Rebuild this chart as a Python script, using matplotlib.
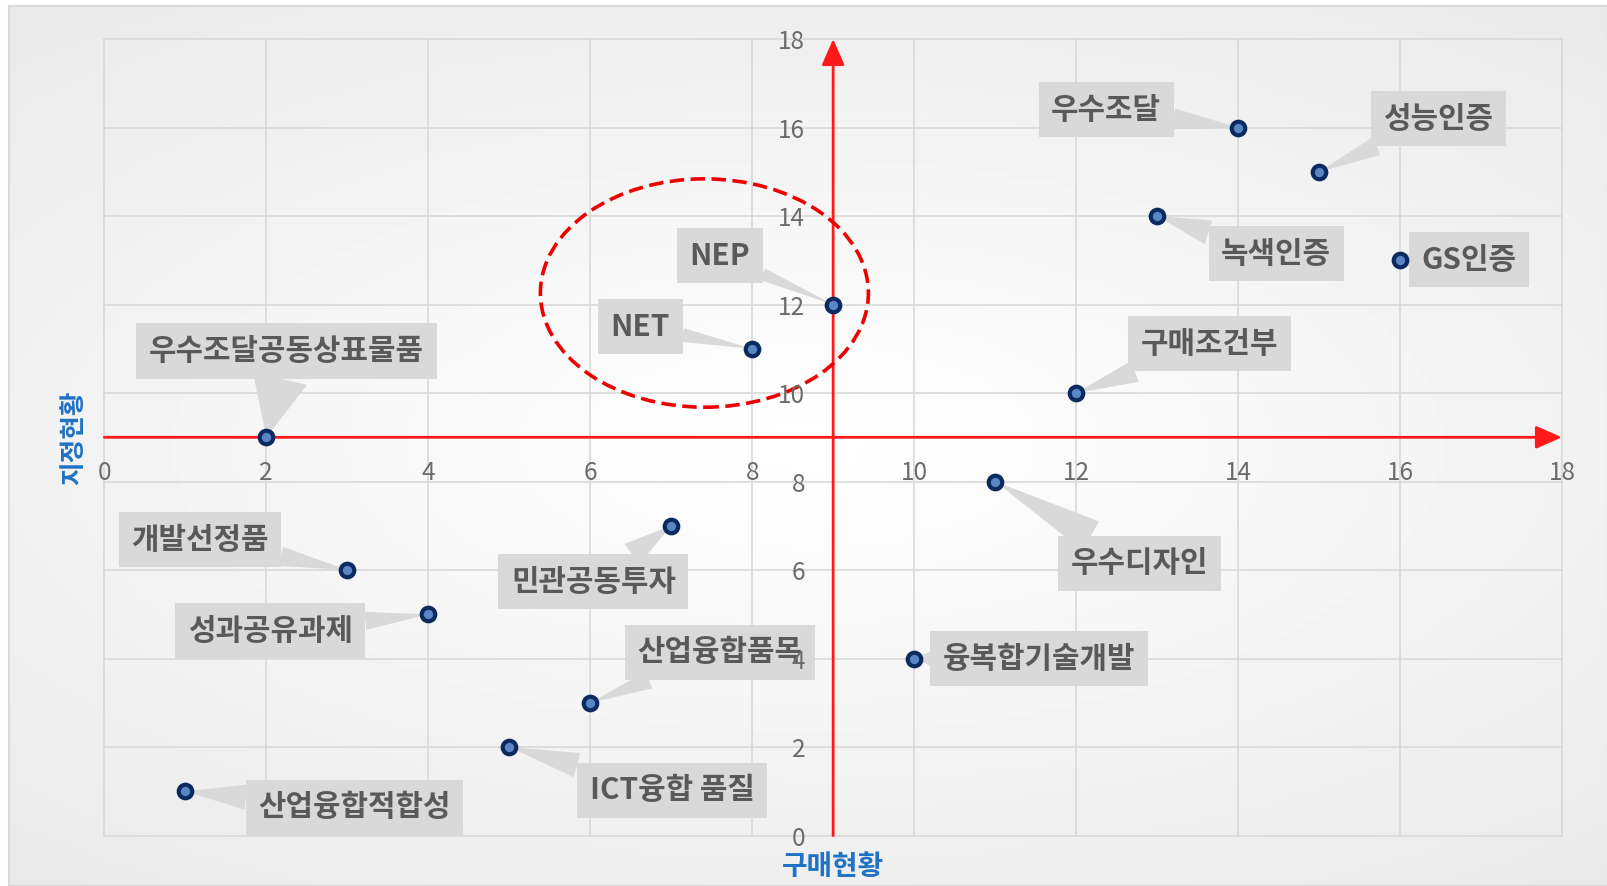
import numpy as np
import matplotlib
matplotlib.use('Agg')
import matplotlib.pyplot as plt
from matplotlib.patches import Ellipse

plt.rcParams['font.family'] = ['Noto Sans CJK KR', 'DejaVu Sans']

# data
names = ['우수조달', '성능인증', '녹색인증', 'GS인증', 'NEP', 'NET', '구매조건부',
         '우수조달공동상표물품', '우수디자인', '민관공동투자', '개발선정품',
         '성과공유과제', '융복합기술개발', '산업융합품목', 'ICT융합 품질', '산업융합적합성']
buy_status = [14, 15, 13, 16, 9, 8, 12, 2, 11, 7, 3, 4, 10, 6, 5, 1]
designation_status = [16, 15, 14, 13, 12, 11, 10, 9, 8, 7, 6, 5, 4, 3, 2, 1]
ticks = list(range(0, 19, 2))
x_title = '구매현황'
y_title = '지정현황'

# callout box centres (layout) and wedge widths (style)
label_x = [12.37, 16.47, 14.47, 16.85, 7.60, 6.62, 13.65, 2.25, 12.78, 6.04, 1.18, 2.05, 11.54, 7.60, 7.01, 3.09]
label_y = [16.40, 16.20, 13.15, 13.01, 13.10, 11.50, 11.11, 10.95, 6.15, 5.74, 6.69, 4.63, 4.00, 4.14, 1.02, 0.64]
wedge_w = [15, 14, 18, 10, 9, 10, 16, 40, 24, 18, 14, 13, 10, 13, 18, 18]

W, H = 1608, 886
fig = plt.figure(figsize=(W / 100, H / 100), dpi=100)
fig.patch.set_facecolor('white')

# outer frame with soft radial gradient
bg = fig.add_axes([9 / W, 0, 1 - 9 / W, 1 - 6 / H], zorder=-2)
gx, gy = np.meshgrid(np.linspace(-1, 1, 300), np.linspace(-1, 1, 200))
r = np.clip(np.sqrt((gx * 0.9) ** 2 + (gy * 1.1) ** 2), 0, 1.4)
bg.imshow(1 - 0.06 * r, cmap='gray', vmin=0, vmax=1, aspect='auto', extent=[0, 1, 0, 1])
bg.set_xticks([]); bg.set_yticks([])
for s in bg.spines.values():
    s.set_color('#d9d9d9'); s.set_linewidth(1.5)

ax = fig.add_axes([104.3 / W, 1 - 835.6 / H, (1562 - 104.3) / W, (835.6 - 39) / H])
ax.set_facecolor('none')
ax.set_xlim(0, 18)
ax.set_ylim(0, 18)

for v in ticks:
    ax.axvline(v, color='#d9d9d9', lw=1.2, zorder=0.8, clip_on=False)
    ax.axhline(v, color='#d9d9d9', lw=1.2, zorder=0.8, clip_on=False)

# red quadrant axes with arrows
arrow_kw = dict(arrowstyle='-|>,head_length=0.8,head_width=0.35', color='#ff1a1a',
                lw=2, mutation_scale=20, shrinkA=0, shrinkB=0)
ax.annotate('', xy=(18, 9), xytext=(0, 9), zorder=1, arrowprops=arrow_kw)
ax.annotate('', xy=(9, 18), xytext=(9, 0), zorder=1, arrowprops=arrow_kw)

# highlight ellipse around NEP / NET
ax.add_patch(Ellipse((7.41, 12.26), 4.05, 5.16, fill=False, ec='#ee0000', lw=2.6,
                     ls=(0, (4, 1.8)), zorder=1.2))

for i, name in enumerate(names):
    ax.annotate(name, xy=(buy_status[i], designation_status[i]), xytext=(label_x[i], label_y[i]),
                ha='center', va='center', fontsize=21.5, fontweight='bold', color='#595959', zorder=2,
                bbox=dict(boxstyle='square,pad=0.42', fc='#d9d9d9', ec='none'),
                arrowprops=dict(arrowstyle='wedge,tail_width=%g,shrink_factor=0.5' % wedge_w[i],
                                mutation_scale=1, fc='#d9d9d9', ec='none', shrinkA=0, shrinkB=0))

ax.scatter(buy_status, designation_status, s=95, facecolor='#5b86c5', edgecolor='#0b2a60',
           linewidths=3, zorder=2.2)

# tick labels sit on the crossing red axes
for s in ax.spines.values():
    s.set_visible(False)
ax.spines['bottom'].set_position(('data', 9))
ax.spines['left'].set_position(('data', 9))
ax.set_axisbelow(False)
ax.set_xticks(ticks)
ax.set_yticks(ticks)
ax.tick_params(length=0, labelsize=17.5, labelcolor='#6b6b6b')
ax.tick_params(axis='x', pad=16)
ax.tick_params(axis='y', pad=20)

ax.set_xlabel(x_title, fontsize=20, fontweight='bold', color='#1f72c4')
ax.xaxis.set_label_coords(0.5, -0.022)
ax.set_ylabel(y_title, fontsize=18.5, fontweight='bold', color='#1f72c4')
ax.yaxis.set_label_coords(-0.012, 0.5)

fig.savefig('out.png', dpi=100)
